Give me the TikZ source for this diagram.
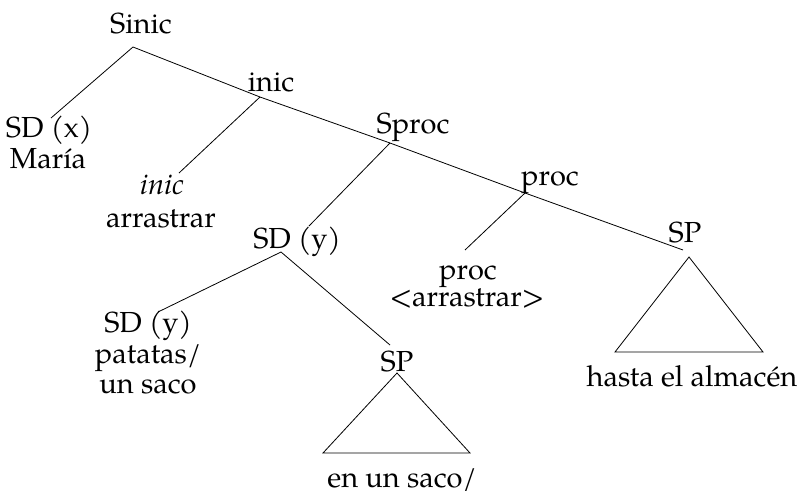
\documentclass[tikz,border=0pt]{standalone}
\usepackage{fontspec}
\setmainfont{TeX Gyre Pagella}
\usepackage{tikz}
\usetikzlibrary{positioning}
\tikzset{
  lbl/.style={anchor=base, inner sep=0pt},
  branch/.style={line width=0.8pt}
}

\begin{document}
\begin{tikzpicture}[x=1pt, y=-1pt, font=\fontsize{29}{30}\selectfont]
  \useasboundingbox (0,0) rectangle (800,490);
  % ---- branching points ----
  \coordinate (sinicJ) at (133,47);
  \coordinate (sdxJ)   at (51,118);
  \coordinate (inicJ)  at (260,97);
  \coordinate (vinicJ) at (179,173);
  \coordinate (sprocJ) at (390,143);
  \coordinate (sdyJ)   at (309,226);
  \coordinate (procJ)  at (525,193);
  \coordinate (vprocJ) at (465,250);
  \coordinate (spJ)    at (683,250);
  \coordinate (sdyLow) at (281,252);
  \coordinate (sdyObj) at (158,312);
  \coordinate (spLowJ) at (390,345);
  % ---- labels ----
  \node[lbl] (sinic)  at (141,33)  {Sinic};
  \node[lbl] (sdx)    at (49,137)  {SD (x)};
  \node[lbl] (maria)  at (48,168)  {María};
  \node[lbl] (inic)   at (271,91)  {inic};
  \node[lbl] (vinic)  at (162,194) {\itshape inic};
  \node[lbl] (arr)    at (161,227) {arrastrar};
  \node[lbl] (sproc)  at (413,133) {Sproc};
  \node[lbl] (proc)   at (550,185) {proc};
  \node[lbl] (sdy)    at (297,248) {SD (y)};
  \node[lbl] (vproc)  at (468,279) {proc};
  \node[lbl] (arrcopy) at (467,306) {<arrastrar>};
  \node[lbl] (sp)     at (685,242) {SP};
  \node[lbl] (sdyb)   at (148,332) {SD (y)};
  \node[lbl] (patatas) at (148,363) {patatas/};
  \node[lbl] (saco)   at (148,393) {un saco};
  \node[lbl] (splow)  at (397,371) {SP};
  \node[lbl] (hasta)  at (692,386) {hasta el almacén};
  \node[lbl] (ensaco) at (402,487) {en un saco/};
  % ---- branches ----
  \draw[branch] (sinicJ) -- (sdxJ);
  \draw[branch] (sinicJ) -- (inicJ) -- (sprocJ) -- (procJ) -- (spJ);
  \draw[branch] (inicJ) -- (vinicJ);
  \draw[branch] (sprocJ) -- (sdyJ);
  \draw[branch] (procJ) -- (vprocJ);
  \draw[branch] (sdyLow) -- (sdyObj);
  \draw[branch] (sdyLow) -- (spLowJ);
  % ---- triangles under the two SP ----
  \coordinate (triR) at (689,257);
  \coordinate (triL) at (397,373);
  \draw[branch] (triR) -- ++(-74,95) -- ++(148,0) -- cycle;
  \draw[branch] (triL) -- ++(-74,80) -- ++(147,0) -- cycle;
\end{tikzpicture}
\end{document}
